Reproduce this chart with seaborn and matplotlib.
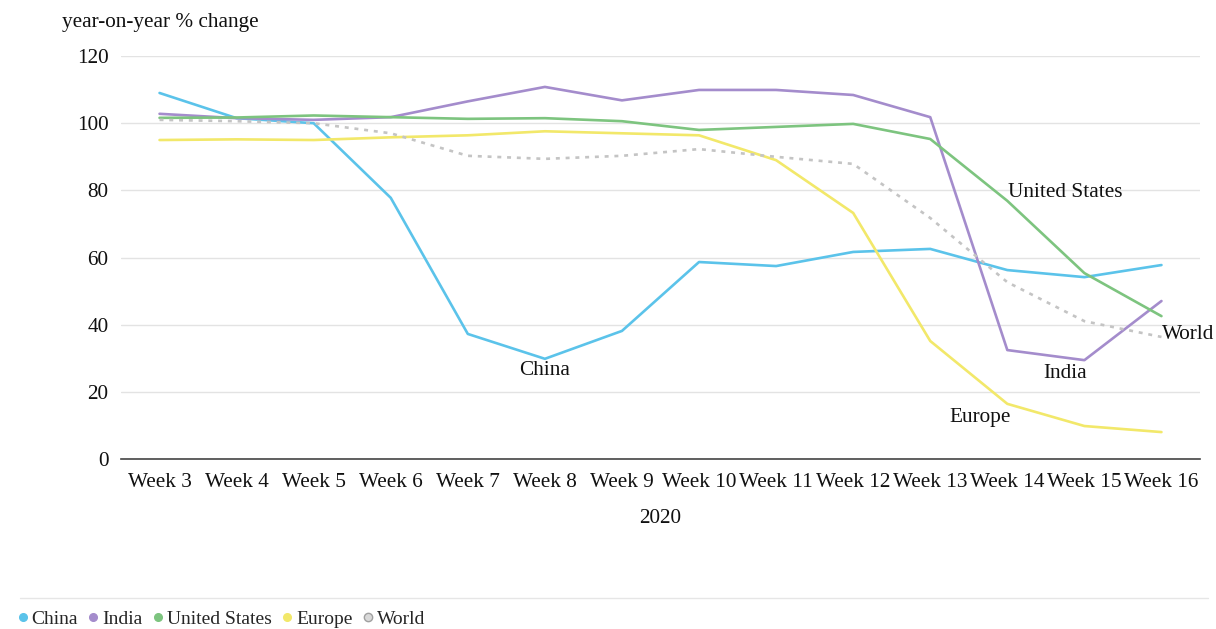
import matplotlib
matplotlib.use("Agg")
import matplotlib.pyplot as plt
from matplotlib.lines import Line2D
import numpy as np
import pandas as pd
import seaborn as sns

weeks = ["Week 3", "Week 4", "Week 5", "Week 6", "Week 7", "Week 8", "Week 9",
         "Week 10", "Week 11", "Week 12", "Week 13", "Week 14", "Week 15", "Week 16"]

china = [109.0, 101.5, 100.0, 77.8, 37.3, 29.9, 38.2, 58.7, 57.5, 61.7, 62.6, 56.3, 54.2, 57.8]
india = [102.8, 101.5, 101.0, 101.8, 106.5, 110.8, 106.8, 109.9, 109.9, 108.4, 101.8, 32.5, 29.5, 47.1]
united_states = [101.6, 101.7, 102.3, 101.8, 101.3, 101.5, 100.6, 98.0, 98.9, 99.8, 95.3, 76.9, 55.4, 42.6]
europe = [95.0, 95.2, 95.0, 95.8, 96.4, 97.6, 97.0, 96.4, 89.0, 73.3, 35.2, 16.5, 9.9, 8.1]
world = [101.0, 100.6, 100.0, 97.0, 90.3, 89.4, 90.3, 92.3, 90.0, 87.9, 71.8, 52.7, 41.1, 36.4]

series_names = ["China", "India", "United States", "Europe", "World"]
series_values = [china, india, united_states, europe, world]
colors = ["#5bc3ea", "#a48ccc", "#7dc47f", "#f2e86a", "#c4c4c4"]

# inline labels: (text, x position in category units, y value)
inline_labels = [("China", 5.0, 26.5), ("United States", 11.75, 79.5),
                 ("India", 11.75, 25.5), ("Europe", 10.65, 12.5), ("World", 13.35, 37.0)]

sns.set_theme(style="white")
plt.rcParams["font.family"] = ["Liberation Serif", "DejaVu Serif"]

fig = plt.figure(figsize=(12.16, 6.29), dpi=100)
ax = fig.add_axes([121 / 1216, 1 - 459.3 / 629, (1200 - 121) / 1216, (459.3 - 56) / 629])

frames = []
for name, vals in zip(series_names, series_values):
    frames.append(pd.DataFrame({"week": weeks, "value": vals, "series": name}))
df = pd.concat(frames, ignore_index=True)

for name, color in zip(series_names, colors):
    sub = df[df["series"] == name]
    ls = (0, (1.5, 2.2)) if name == "World" else "-"
    sns.lineplot(data=sub, x="week", y="value", ax=ax, color=color, linewidth=1.9,
                 linestyle=ls, sort=False, legend=False)

ax.set_xlim(-0.5, len(weeks) - 0.5)
ax.set_ylim(0, 120)
ax.set_yticks(np.arange(0, 121, 20))
ax.yaxis.grid(True, color="#e3e3e3", linewidth=1.0)
ax.xaxis.grid(False)
ax.set_axisbelow(True)
for s in ["left", "right", "top"]:
    ax.spines[s].set_visible(False)
ax.spines["bottom"].set_color("#444444")
ax.spines["bottom"].set_linewidth(1.2)

ax.set_xticks(range(len(weeks)))
ax.set_xticklabels(weeks, fontsize=15.3, color="#111111")
ax.set_xticks(np.arange(-0.5, len(weeks), 1.0), minor=True)
ax.tick_params(axis="x", which="major", length=0, pad=10)
ax.tick_params(axis="x", which="minor", length=6, width=1.0, color="#444444", direction="out")
ax.tick_params(axis="y", length=0, labelsize=15.3, labelcolor="#111111", pad=9)

ax.set_xlabel("2020", fontsize=15.3, color="#111111", labelpad=12)
ax.set_ylabel("")
fig.text(62 / 1216, 1 - 22 / 629, "year-on-year % change", fontsize=15.3,
         color="#111111", va="center", ha="left")

for text, xpos, yval in inline_labels:
    ax.text(xpos, yval, text, fontsize=15.3, color="#111111", ha="center", va="center")

# bottom separator line above the legend
fig.add_artist(Line2D([20 / 1216, 1208 / 1216], [1 - 598 / 629, 1 - 598 / 629],
                      color="#e6e6e6", linewidth=1.0, transform=fig.transFigure))

handles = []
for name, color in zip(series_names, colors):
    if name == "World":
        handles.append(Line2D([], [], marker="o", linestyle="none", markersize=6,
                              markerfacecolor="#d9d9d9", markeredgecolor="#a0a0a0",
                              markeredgewidth=1.0))
    else:
        handles.append(Line2D([], [], marker="o", linestyle="none", markersize=5.5,
                              markerfacecolor=color, markeredgecolor=color))
fig.legend(handles, series_names, loc="lower left", ncol=5, frameon=False,
           bbox_to_anchor=(10 / 1216, -7 / 629), fontsize=14, handlelength=0.5,
           handletextpad=0.2, columnspacing=0.55, borderaxespad=0.0)

fig.savefig("out.png", dpi=100)
